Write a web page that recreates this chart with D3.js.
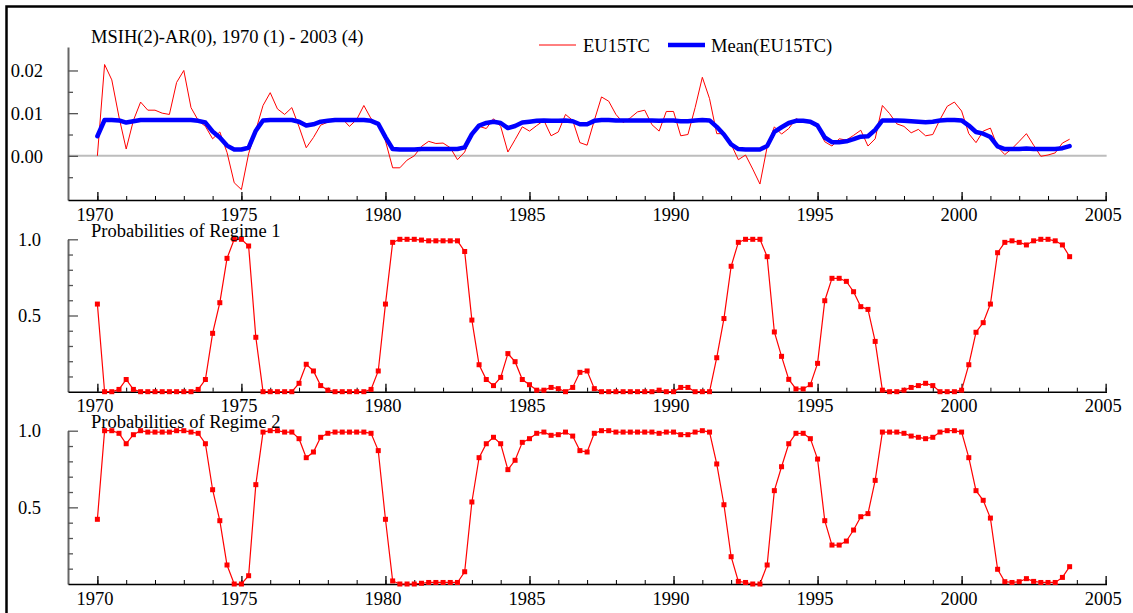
<!doctype html>
<html>
  <head>
    <meta charset="utf-8">
    <title>MSIH(2)-AR(0) EU15TC</title>
    <script src="https://cdnjs.cloudflare.com/ajax/libs/d3/7.8.5/d3.min.js"></script>
    <style>
      body { margin: 0; background: #fff; }
      text { font-family: "Liberation Serif", "Times New Roman", serif; font-size: 18.5px; fill: #000; }
    </style>
  </head>
  <body>
    <div id="chart"></div>
    <script>
      // quarterly sample 1970(1) - 2003(4), one row per year
      const startYear = 1970, nObs = 136;
      const yearTicks = d3.range(1970, 2006);
      const labelTicks = [1970, 1975, 1980, 1985, 1990, 1995, 2000, 2005];

      const eu15tc = [
        0.0000, 0.0214, 0.0178, 0.0091,
        0.0016, 0.0083, 0.0126, 0.0107,
        0.0107, 0.0100, 0.0097, 0.0172,
        0.0200, 0.0113, 0.0083, 0.0069,
        0.0040, 0.0056, 0.0008, -0.0063,
        -0.0079, 0.0005, 0.0060, 0.0118,
        0.0148, 0.0110, 0.0097, 0.0113,
        0.0068, 0.0019, 0.0043, 0.0072,
        0.0079, 0.0085, 0.0087, 0.0069,
        0.0085, 0.0118, 0.0087, 0.0075,
        0.0035, -0.0028, -0.0028, -0.0010,
        0.0000, 0.0022, 0.0034, 0.0029,
        0.0030, 0.0019, -0.0009, 0.0009,
        0.0052, 0.0069, 0.0064, 0.0087,
        0.0069, 0.0009, 0.0038, 0.0068,
        0.0058, 0.0071, 0.0083, 0.0047,
        0.0056, 0.0097, 0.0083, 0.0031,
        0.0025, 0.0083, 0.0138, 0.0128,
        0.0097, 0.0078, 0.0089, 0.0103,
        0.0107, 0.0073, 0.0058, 0.0104,
        0.0104, 0.0047, 0.0050, 0.0113,
        0.0184, 0.0134, 0.0052, 0.0052,
        0.0027, -0.0009, 0.0002, -0.0031,
        -0.0066, 0.0021, 0.0068, 0.0051,
        0.0064, 0.0087, 0.0081, 0.0079,
        0.0068, 0.0033, 0.0023, 0.0040,
        0.0037, 0.0048, 0.0060, 0.0023,
        0.0040, 0.0118, 0.0099, 0.0075,
        0.0069, 0.0054, 0.0062, 0.0047,
        0.0050, 0.0085, 0.0116, 0.0126,
        0.0105, 0.0052, 0.0031, 0.0058,
        0.0065, 0.0021, 0.0003, 0.0017,
        0.0034, 0.0052, 0.0025, -0.0001,
        0.0002, 0.0007, 0.0030, 0.0039
      ];

      const meanEU15TC = [
        0.0046, 0.0084, 0.0084, 0.0083,
        0.0078, 0.0081, 0.0084, 0.0084,
        0.0084, 0.0084, 0.0084, 0.0084,
        0.0084, 0.0084, 0.0082, 0.0078,
        0.0057, 0.0043, 0.0024, 0.0015,
        0.0015, 0.0019, 0.0059, 0.0083,
        0.0084, 0.0084, 0.0084, 0.0084,
        0.0080, 0.0071, 0.0074, 0.0080,
        0.0082, 0.0084, 0.0084, 0.0084,
        0.0084, 0.0084, 0.0082, 0.0075,
        0.0044, 0.0016, 0.0015, 0.0015,
        0.0015, 0.0016, 0.0016, 0.0016,
        0.0016, 0.0016, 0.0016, 0.0020,
        0.0051, 0.0071, 0.0077, 0.0080,
        0.0077, 0.0065, 0.0070, 0.0078,
        0.0080, 0.0082, 0.0083, 0.0082,
        0.0082, 0.0083, 0.0081, 0.0074,
        0.0074, 0.0082, 0.0084, 0.0084,
        0.0083, 0.0083, 0.0083, 0.0083,
        0.0083, 0.0083, 0.0082, 0.0083,
        0.0083, 0.0081, 0.0081, 0.0083,
        0.0084, 0.0083, 0.0068, 0.0050,
        0.0027, 0.0016, 0.0015, 0.0015,
        0.0015, 0.0023, 0.0056, 0.0067,
        0.0077, 0.0082, 0.0082, 0.0080,
        0.0071, 0.0043, 0.0032, 0.0032,
        0.0034, 0.0039, 0.0045, 0.0046,
        0.0061, 0.0083, 0.0083, 0.0083,
        0.0082, 0.0081, 0.0080, 0.0079,
        0.0080, 0.0083, 0.0084, 0.0084,
        0.0083, 0.0071, 0.0056, 0.0052,
        0.0044, 0.0022, 0.0016, 0.0016,
        0.0016, 0.0017, 0.0016, 0.0016,
        0.0016, 0.0016, 0.0018, 0.0023
      ];

      const regime1 = [
        0.575, 0, 0, 0.015,
        0.08, 0.015, 0, 0,
        0, 0, 0, 0,
        0, 0, 0.015, 0.08,
        0.383, 0.584, 0.875, 1.0,
        1.0, 0.956, 0.357, 0,
        0, 0, 0, 0,
        0.055, 0.18, 0.136, 0.04,
        0.01, 0, 0, 0,
        0, 0, 0.015, 0.136,
        0.575, 0.98, 1.0, 1.0,
        1.0, 0.995, 0.99, 0.99,
        0.99, 0.99, 0.99, 0.92,
        0.47, 0.177, 0.08, 0.04,
        0.094, 0.25, 0.197, 0.08,
        0.046, 0.01, 0.01, 0.028,
        0.02, 0, 0.028, 0.127,
        0.136, 0.02, 0, 0,
        0, 0, 0, 0,
        0, 0, 0.01, 0,
        0, 0.028, 0.028, 0,
        0, 0, 0.223, 0.48,
        0.823, 0.98, 1.0, 1.0,
        1.0, 0.886, 0.392, 0.232,
        0.081, 0.018, 0.018, 0.046,
        0.186, 0.597, 0.744, 0.744,
        0.724, 0.656, 0.558, 0.54,
        0.33, 0.01, 0, 0,
        0.01, 0.028, 0.04, 0.055,
        0.04, 0, 0, 0,
        0.01, 0.177, 0.39, 0.453,
        0.575, 0.912, 0.98, 0.99,
        0.98, 0.963, 0.99, 1.0,
        1.0, 0.99, 0.963, 0.886
      ];

      const regime2 = [
        0.422, 1.0, 1.0, 0.983,
        0.915, 0.974, 1.0, 0.991,
        0.991, 0.991, 0.991, 1.0,
        1.0, 0.991, 0.983, 0.915,
        0.615, 0.413, 0.124, 0,
        0, 0.054, 0.648, 0.991,
        1.0, 1.0, 0.991, 0.991,
        0.948, 0.824, 0.861, 0.957,
        0.983, 0.991, 0.991, 0.991,
        0.991, 0.991, 0.983, 0.87,
        0.422, 0.02, 0, 0,
        0, 0.005, 0.01, 0.01,
        0.01, 0.01, 0.01, 0.08,
        0.535, 0.824, 0.915, 0.957,
        0.915, 0.746, 0.807, 0.924,
        0.948, 0.983, 0.991, 0.97,
        0.974, 0.991, 0.965, 0.87,
        0.861, 0.983, 1.0, 1.0,
        0.991, 0.991, 0.991, 0.991,
        0.991, 0.991, 0.983, 0.991,
        0.991, 0.974, 0.974, 0.991,
        1.0, 0.991, 0.783, 0.517,
        0.178, 0.017, 0.01, 0,
        0, 0.124, 0.609, 0.765,
        0.915, 0.983, 0.983, 0.948,
        0.815, 0.413, 0.254, 0.254,
        0.28, 0.352, 0.439, 0.459,
        0.676, 0.991, 0.991, 0.991,
        0.983, 0.965, 0.957, 0.948,
        0.957, 0.991, 1.0, 1.0,
        0.991, 0.824, 0.609, 0.546,
        0.43, 0.096, 0.015, 0.01,
        0.015, 0.035, 0.017, 0.01,
        0.01, 0.01, 0.043, 0.113
      ];

      const dates = d3.range(nObs).map(i => startYear + i / 4);

      const svg = d3.select('#chart').append('svg')
        .attr('width', 1133)
        .attr('height', 613);

      svg.append('rect').attr('width', 1133).attr('height', 613).attr('fill', '#fff');

      // outer frame (runs off the right and bottom edges)
      svg.append('rect')
        .attr('x', 6.5).attr('y', 6.5)
        .attr('width', 1200).attr('height', 700)
        .attr('fill', 'none').attr('stroke', '#000').attr('stroke-width', 2.5);

      const x = d3.scaleLinear().domain([1968.98, 2005.03]).range([68, 1106.5]);

      // panels
      const panels = [
        { top: 47, bottom: 200, domain: [-0.01034, 0.0255] },
        { top: 239.3, bottom: 391.7, domain: [0, 1] },
        { top: 430.7, bottom: 584, domain: [0, 1] }
      ];
      panels.forEach(p => {
        p.y = d3.scaleLinear().domain(p.domain).range([p.bottom, p.top]);
        p.g = svg.append('g');
      });

      function xAxis(p) {
        const g = p.g;
        g.append('g')
          .attr('transform', `translate(0,${p.bottom})`)
          .call(d3.axisBottom(x).tickValues(yearTicks).tickSize(-4).tickSizeOuter(0).tickFormat(''))
          .call(a => a.select('.domain').attr('stroke', '#000').attr('stroke-width', 1.6));
        g.append('g')
          .attr('transform', `translate(0,${p.bottom})`)
          .call(d3.axisBottom(x).tickValues(labelTicks).tickSize(-8).tickSizeOuter(0).tickFormat(d3.format('d')))
          .call(a => a.select('.domain').remove())
          .call(a => a.selectAll('line').attr('stroke', '#000').attr('stroke-width', 1.3))
          .call(a => a.selectAll('text')
            .attr('y', 20.7).attr('dy', null).attr('dx', -3)
            .style('font-family', '"Liberation Serif", serif').style('font-size', '18.5px'));
      }

      function yAxis(p, minor, major, fmt, pad) {
        const g = p.g.append('g').attr('transform', 'translate(68,0)');
        g.append('g')
          .call(d3.axisLeft(p.y).tickValues(minor).tickSize(-5).tickSizeOuter(0).tickFormat(''))
          .call(a => a.select('.domain').attr('stroke', '#666').attr('stroke-width', 2))
          .call(a => a.selectAll('line').attr('stroke', '#555').attr('stroke-width', 1.3));
        g.append('g')
          .call(d3.axisLeft(p.y).tickValues(major).tickSize(-10).tickSizeOuter(0).tickFormat(fmt).tickPadding(pad))
          .call(a => a.select('.domain').remove())
          .call(a => a.selectAll('line').attr('stroke', '#555').attr('stroke-width', 1.3))
          .call(a => a.selectAll('text')
            .attr('dy', '0.34em')
            .style('font-family', '"Liberation Serif", serif').style('font-size', '18.5px'));
      }

      // ---------- panel 1: EU15TC and regime mean ----------
      const p1 = panels[0];
      p1.g.append('line')
        .attr('x1', 68).attr('x2', x(2005) + 1)
        .attr('y1', p1.y(0)).attr('y2', p1.y(0))
        .attr('stroke', '#bdbdbd').attr('stroke-width', 2);
      yAxis(p1, [-0.005, 0.005, 0.015], [0, 0.01, 0.02], d3.format('.2f'), 25);
      xAxis(p1);

      p1.g.append('path')
        .datum(eu15tc)
        .attr('fill', 'none').attr('stroke', '#ff0000').attr('stroke-width', 1)
        .attr('d', d3.line().x((d, i) => x(dates[i])).y(d => p1.y(d)));

      p1.g.append('path')
        .datum(meanEU15TC)
        .attr('fill', 'none').attr('stroke', '#0000ff').attr('stroke-width', 4.5)
        .attr('stroke-linejoin', 'round').attr('stroke-linecap', 'round')
        .attr('d', d3.line().x((d, i) => x(dates[i])).y(d => p1.y(d)));

      svg.append('text').attr('x', 91).attr('y', 43)
        .text('MSIH(2)-AR(0), 1970 (1) - 2003 (4)');

      // legend
      const legend = svg.append('g');
      legend.append('line').attr('x1', 539).attr('x2', 576).attr('y1', 45).attr('y2', 45)
        .attr('stroke', '#ff0000').attr('stroke-width', 1);
      legend.append('text').attr('x', 583).attr('y', 52).text('EU15TC');
      legend.append('line').attr('x1', 668).attr('x2', 705).attr('y1', 45).attr('y2', 45)
        .attr('stroke', '#0000ff').attr('stroke-width', 4.5);
      legend.append('text').attr('x', 711).attr('y', 52).text('Mean(EU15TC)');

      // ---------- panels 2 & 3: regime probabilities ----------
      const probMinor = [0.1, 0.2, 0.3, 0.4, 0.6, 0.7, 0.8, 0.9];
      [[panels[1], regime1, 'Probabilities of Regime 1', 236.5],
       [panels[2], regime2, 'Probabilities of Regime 2', 428]].forEach(([p, vals, title, ty]) => {
        yAxis(p, probMinor, [0.5, 1.0], d3.format('.1f'), 27);
        xAxis(p);
        p.g.append('path')
          .datum(vals)
          .attr('fill', 'none').attr('stroke', '#ff0000').attr('stroke-width', 1.2)
          .attr('d', d3.line().x((d, i) => x(dates[i])).y(d => p.y(d)));
        p.g.selectAll('rect.mk')
          .data(vals)
          .join('rect')
          .attr('class', 'mk')
          .attr('x', (d, i) => x(dates[i]) - 2.5)
          .attr('y', d => p.y(d) - 2.5)
          .attr('width', 5).attr('height', 5)
          .attr('fill', '#ff0000');
        svg.append('text').attr('x', 91).attr('y', ty).text(title);
      });
    </script>
  </body>
</html>
